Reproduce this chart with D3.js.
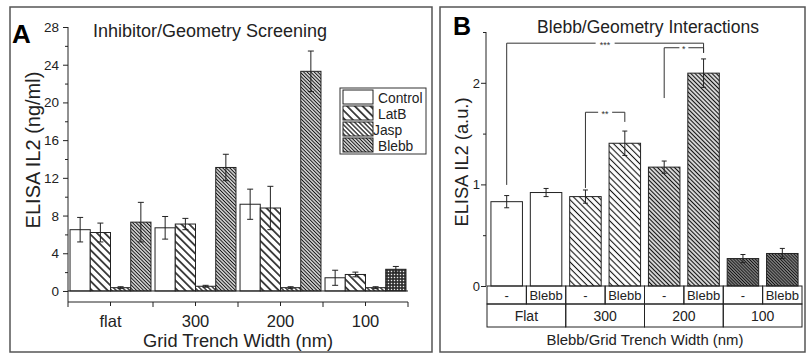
<!DOCTYPE html>
<html>
<head>
<meta charset="utf-8">
<script src="https://cdn.jsdelivr.net/npm/d3@7"></script>
<style>
  body { margin: 0; background: #fff; }
  svg { font-family: 'Liberation Sans', Arial, sans-serif; }
</style>
</head>
<body>
<svg id="chart" width="808" height="363"></svg>
<script>
// panel A data
let groupsA = ['flat', '300', '200', '100']
let seriesA = ['Control', 'LatB', 'Jasp', 'Blebb']
let controlA = [6.5, 6.7, 9.2, 1.4]
let controlErrA = [1.3, 1.2, 1.6, 0.8]
let latbA = [6.2, 7.1, 8.8, 1.75]
let latbErrA = [1.0, 0.6, 2.3, 0.25]
let jaspA = [0.35, 0.5, 0.35, 0.35]
let jaspErrA = [0.1, 0.1, 0.1, 0.1]
let blebbA = [7.3, 13.1, 23.3, 2.3]
let blebbErrA = [2.1, 1.4, 2.15, 0.3]
let yTicksA = [0, 4, 8, 12, 16, 20, 24, 28]

// panel B data
let geomB = ['Flat', '300', '200', '100']
let treatB = ['-', 'Blebb']
let valueB = [0.83, 0.92, 0.88, 1.405, 1.17, 2.095, 0.27, 0.32]
let errB = [0.06, 0.04, 0.065, 0.12, 0.06, 0.14, 0.04, 0.05]
let yTicksB = [0, 1, 2]
// significance brackets: bar indexes, top level, left/right foot levels
let bracketFrom = [0, 4, 2]
let bracketTo = [5, 5, 3]
let bracketTop = [2.39, 2.345, 1.71]
let bracketLeftFoot = [0.995, 1.85, 0.965]
let bracketRightFoot = [2.295, 2.295, 1.615]
let bracketLabel = ['***', '*', '**']

let svg = d3.select('#chart')
let defs = svg.append('defs')

function hatch(id, gap, width, fill) {
  let p = defs.append('pattern')
    .attr('id', id)
    .attr('patternUnits', 'userSpaceOnUse')
    .attr('width', gap)
    .attr('height', gap)
    .attr('patternTransform', 'rotate(-45)')
  p.append('rect').attr('width', gap).attr('height', gap).attr('fill', fill || '#fff')
  p.append('line')
    .attr('x1', gap / 2).attr('x2', gap / 2)
    .attr('y1', 0).attr('y2', gap)
    .attr('stroke', '#111')
    .attr('stroke-width', width)
}
hatch('latbA', 5.5, 1.5)
hatch('jaspA', 3.2, 1.2)
hatch('blebbA', 2.5, 1, '#ddd')
hatch('h300', 4.4, 1.1)
hatch('h200', 3, 1.1, '#ddd')
hatch('h100', 2.2, 1.1, '#999')

let check = defs.append('pattern')
  .attr('id', 'checkA')
  .attr('patternUnits', 'userSpaceOnUse')
  .attr('width', 3).attr('height', 3)
check.append('rect').attr('width', 3).attr('height', 3).attr('fill', '#2a2a2a')
check.append('rect').attr('x', 0.8).attr('y', 0.8).attr('width', 1.4).attr('height', 1.4).attr('fill', '#eee')

let fillA = { Control: '#fff', LatB: 'url(#latbA)', Jasp: 'url(#jaspA)', Blebb: 'url(#blebbA)' }

// panel frames
svg.append('rect').attr('x', 10).attr('y', 7).attr('width', 422).attr('height', 345)
  .attr('fill', 'none').attr('stroke', '#555').attr('stroke-width', 1.5)
svg.append('rect').attr('x', 440).attr('y', 7).attr('width', 365).attr('height', 345)
  .attr('fill', 'none').attr('stroke', '#555').attr('stroke-width', 1.5)

// ---------- panel A ----------
let xA = d3.scaleBand().domain(groupsA).range([68, 408]).paddingInner(0).paddingOuter(0)
let xInA = d3.scaleBand().domain(seriesA).range([0, xA.bandwidth()]).paddingInner(0).paddingOuter(0.1)
let yA = d3.scaleLinear().domain([-1.17, 28]).range([302, 27])

let rowsA = []
let valsA = { Control: controlA, LatB: latbA, Jasp: jaspA, Blebb: blebbA }
let errsA = { Control: controlErrA, LatB: latbErrA, Jasp: jaspErrA, Blebb: blebbErrA }
groupsA.forEach((g, i) => {
  seriesA.forEach(s => {
    rowsA.push({ group: g, series: s, value: valsA[s][i], err: errsA[s][i] })
  })
})

let gA = svg.append('g')

gA.selectAll('.barA')
  .data(rowsA)
  .enter()
  .append('rect')
  .attr('class', 'barA')
  .attr('x', d => xA(d.group) + xInA(d.series))
  .attr('width', xInA.bandwidth())
  .attr('y', d => yA(d.value))
  .attr('height', d => yA(0) - yA(d.value))
  .attr('fill', d => (d.group === '100' && d.series === 'Blebb') ? 'url(#checkA)' : fillA[d.series])
  .attr('stroke', '#222')
  .attr('stroke-width', 1)

let errA = gA.selectAll('.errA')
  .data(rowsA)
  .enter()
  .append('g')
  .attr('class', 'errA')
  .attr('transform', d => `translate(${xA(d.group) + xInA(d.series) + xInA.bandwidth() / 2},0)`)
errA.append('line')
  .attr('y1', d => yA(d.value + d.err)).attr('y2', d => yA(d.value - d.err))
  .attr('stroke', '#222')
errA.append('line')
  .attr('x1', -3).attr('x2', 3)
  .attr('y1', d => yA(d.value + d.err)).attr('y2', d => yA(d.value + d.err))
  .attr('stroke', '#222')
errA.append('line')
  .attr('x1', -3).attr('x2', 3)
  .attr('y1', d => yA(d.value - d.err)).attr('y2', d => yA(d.value - d.err))
  .attr('stroke', '#222')

// zero line
gA.append('line')
  .attr('x1', 68).attr('x2', 408)
  .attr('y1', yA(0)).attr('y2', yA(0))
  .attr('stroke', '#222')

// y axis
let yAxisA = gA.append('g')
  .attr('transform', 'translate(68,0)')
  .call(d3.axisLeft(yA).tickValues(d3.range(0, 29, 2)).tickSize(3).tickFormat(''))
yAxisA.select('.domain').attr('d', `M0,${yA(28)}V${yA(-1.17)}`).attr('stroke', '#222')
yAxisA.selectAll('.tick line').attr('stroke', '#222')
  .attr('x2', d => yTicksA.includes(d) ? -5 : -3)
gA.append('g')
  .selectAll('text')
  .data(yTicksA)
  .enter()
  .append('text')
  .attr('x', 59)
  .attr('y', d => yA(d) + 5)
  .attr('text-anchor', 'end')
  .attr('font-size', 13.5)
  .attr('fill', '#222')
  .text(d => d)

// x axis
let xAxisA = gA.append('g')
  .attr('transform', 'translate(0,302)')
  .call(d3.axisBottom(xA).tickSize(4).tickPadding(5))
xAxisA.select('.domain').attr('d', 'M68,0H408').attr('stroke', '#222')
xAxisA.selectAll('.tick line').attr('stroke', '#222')
xAxisA.selectAll('.tick text').attr('font-size', 16.5).attr('fill', '#222')
  .attr('font-family', "'Liberation Sans', Arial, sans-serif")
  .attr('dy', '0.95em')
gA.append('g')
  .selectAll('line')
  .data(groupsA.concat(['end']))
  .enter()
  .append('line')
  .attr('x1', (d, i) => 68 + i * xA.bandwidth())
  .attr('x2', (d, i) => 68 + i * xA.bandwidth())
  .attr('y1', 302).attr('y2', 307)
  .attr('stroke', '#222')

// labels
gA.append('text').attr('x', 12).attr('y', 43).attr('font-size', 26).attr('font-weight', 'bold').text('A')
gA.append('text').attr('x', 93).attr('y', 37).attr('font-size', 18).attr('fill', '#222')
  .text('Inhibitor/Geometry Screening')
gA.append('text')
  .attr('transform', 'translate(40,150) rotate(-90)')
  .attr('text-anchor', 'middle')
  .attr('font-size', 20)
  .attr('fill', '#222')
  .text('ELISA IL2 (ng/ml)')
gA.append('text').attr('x', 238).attr('y', 347).attr('text-anchor', 'middle')
  .attr('font-size', 18.3).attr('fill', '#222').text('Grid Trench Width (nm)')

// legend
let legA = gA.append('g').attr('transform', 'translate(340,88)')
legA.append('rect').attr('width', 86).attr('height', 66)
  .attr('fill', '#fff').attr('stroke', '#333').attr('stroke-width', 1)
let legItem = legA.selectAll('.leg')
  .data(seriesA)
  .enter()
  .append('g')
  .attr('transform', (d, i) => `translate(3,${2 + i * 16})`)
legItem.append('rect').attr('width', 30).attr('height', 14)
  .attr('fill', d => fillA[d]).attr('stroke', '#222')
legItem.append('text').attr('x', d => d === 'Jasp' ? 30 : 35).attr('y', 12.5)
  .attr('font-size', 13.8).attr('fill', '#222').text(d => d)

// ---------- panel B ----------
let cellsB = []
geomB.forEach(g => treatB.forEach(t => cellsB.push(g + '|' + t)))
let xB = d3.scaleBand().domain(cellsB).range([487, 802]).paddingInner(0.2).paddingOuter(0.1)
let xGeoB = d3.scaleBand().domain(geomB).range([487, 802])
let yB = d3.scaleLinear().domain([0, 2.5]).range([286, 32])
let fillB = { 'Flat': '#fff', '300': 'url(#h300)', '200': 'url(#h200)', '100': 'url(#h100)' }

let rowsB = cellsB.map((c, i) => ({
  key: c, geo: c.split('|')[0], treat: c.split('|')[1], value: valueB[i], err: errB[i]
}))

let gB = svg.append('g')

gB.selectAll('.barB')
  .data(rowsB)
  .enter()
  .append('rect')
  .attr('class', 'barB')
  .attr('x', d => xB(d.key))
  .attr('width', xB.bandwidth())
  .attr('y', d => yB(d.value))
  .attr('height', d => yB(0) - yB(d.value))
  .attr('fill', d => fillB[d.geo])
  .attr('stroke', '#222')
  .attr('stroke-width', 1)

let errBg = gB.selectAll('.errB')
  .data(rowsB)
  .enter()
  .append('g')
  .attr('transform', d => `translate(${xB(d.key) + xB.bandwidth() / 2},0)`)
errBg.append('line')
  .attr('y1', d => yB(d.value + d.err)).attr('y2', d => yB(d.value - d.err))
  .attr('stroke', '#222')
errBg.append('line').attr('x1', -2.5).attr('x2', 2.5)
  .attr('y1', d => yB(d.value + d.err)).attr('y2', d => yB(d.value + d.err))
  .attr('stroke', '#222')
errBg.append('line').attr('x1', -2.5).attr('x2', 2.5)
  .attr('y1', d => yB(d.value - d.err)).attr('y2', d => yB(d.value - d.err))
  .attr('stroke', '#222')

// y axis B
let yAxisB = gB.append('g')
  .attr('transform', 'translate(486,0)')
  .call(d3.axisLeft(yB).tickValues([0, 0.5, 1, 1.5, 2, 2.5]).tickSize(4).tickFormat(''))
yAxisB.select('.domain').attr('d', `M0,${yB(2.5)}V${yB(0)}`).attr('stroke', '#222')
yAxisB.selectAll('.tick line').attr('stroke', '#222')
  .attr('x2', d => yTicksB.includes(d) ? -5 : -3)
gB.append('g')
  .selectAll('text')
  .data(yTicksB)
  .enter()
  .append('text')
  .attr('x', 480)
  .attr('y', d => yB(d) + 5)
  .attr('text-anchor', 'end')
  .attr('font-size', 13)
  .attr('fill', '#222')
  .text(d => d)

// table under bars
let step = xB.step()
let row1 = gB.append('g')
row1.selectAll('rect')
  .data(rowsB)
  .enter()
  .append('rect')
  .attr('x', d => xB(d.key) - step * 0.1)
  .attr('width', step)
  .attr('y', 286).attr('height', 18)
  .attr('fill', 'none').attr('stroke', '#222')
row1.selectAll('text')
  .data(rowsB)
  .enter()
  .append('text')
  .attr('x', d => xB(d.key) + xB.bandwidth() / 2)
  .attr('y', 300)
  .attr('text-anchor', 'middle')
  .attr('font-size', 13)
  .attr('fill', '#222')
  .text(d => d.treat)
let row2 = gB.append('g')
row2.selectAll('rect')
  .data(geomB)
  .enter()
  .append('rect')
  .attr('x', d => xGeoB(d))
  .attr('width', xGeoB.bandwidth())
  .attr('y', 304).attr('height', 23)
  .attr('fill', 'none').attr('stroke', '#222')
row2.selectAll('text')
  .data(geomB)
  .enter()
  .append('text')
  .attr('x', d => xGeoB(d) + xGeoB.bandwidth() / 2)
  .attr('y', 321)
  .attr('text-anchor', 'middle')
  .attr('font-size', 14)
  .attr('fill', '#222')
  .text(d => d)

// significance brackets
bracketLabel.forEach((lab, i) => {
  let x1 = xB(cellsB[bracketFrom[i]]) + xB.bandwidth() / 2
  let x2 = xB(cellsB[bracketTo[i]]) + xB.bandwidth() / 2
  let yt = yB(bracketTop[i])
  let mid = (x1 + x2) / 2
  let gap = lab.length * 2.5 + 2
  gB.append('path')
    .attr('d', `M${x1},${yB(bracketLeftFoot[i])}V${yt}H${mid - gap}M${mid + gap},${yt}H${x2}V${yB(bracketRightFoot[i])}`)
    .attr('fill', 'none')
    .attr('stroke', '#333')
    .attr('stroke-width', 1)
  gB.append('text')
    .attr('x', mid).attr('y', yt + 4.5)
    .attr('text-anchor', 'middle')
    .attr('font-size', 9)
    .attr('fill', '#333')
    .text(lab)
})

gB.append('text').attr('x', 453).attr('y', 35).attr('font-size', 25).attr('font-weight', 'bold').text('B')
gB.append('text').attr('x', 648).attr('y', 33).attr('text-anchor', 'middle')
  .attr('font-size', 17.5).attr('fill', '#222').text('Blebb/Geometry Interactions')
gB.append('text')
  .attr('transform', 'translate(468,162) rotate(-90)')
  .attr('text-anchor', 'middle')
  .attr('font-size', 18.3)
  .attr('fill', '#222')
  .text('ELISA IL2 (a.u.)')
gB.append('text').attr('x', 645).attr('y', 345).attr('text-anchor', 'middle')
  .attr('font-size', 14.9).attr('fill', '#222').text('Blebb/Grid Trench Width (nm)')
</script>
</body>
</html>
